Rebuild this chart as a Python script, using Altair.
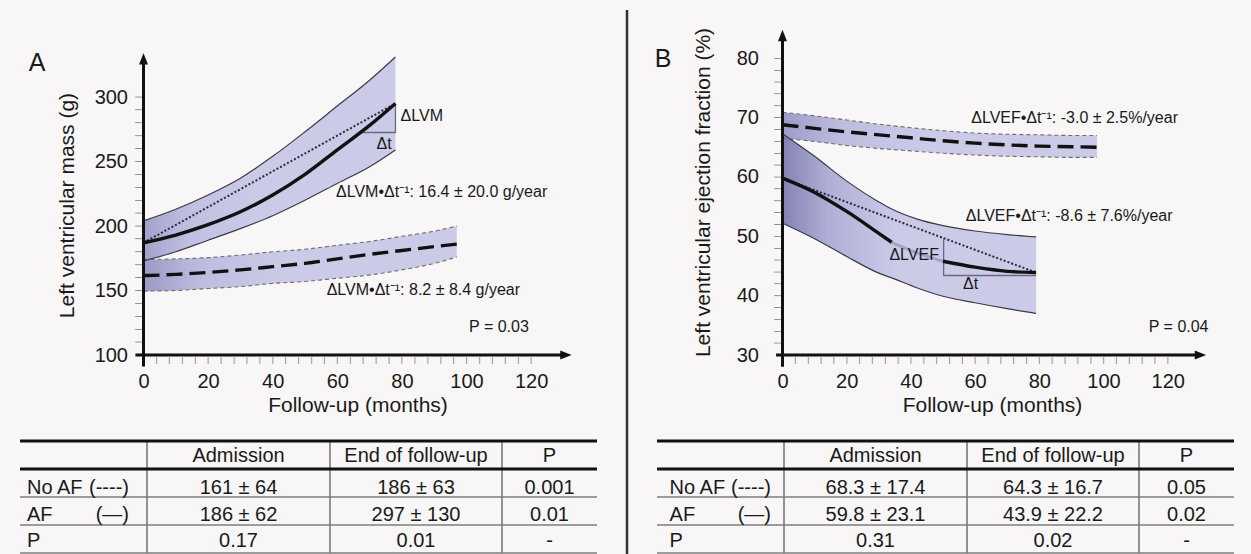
import altair as alt
import pandas as pd

FONT = "Liberation Sans"
INK = "#1a1a1a"
BG = "#f8f6f7"

# ---------------- Panel A: left ventricular mass (g) ----------------
A_AF_MONTH = [0, 10, 20, 30, 40, 50, 60, 70, 78]
A_AF_MEAN = [187, 193, 201, 211, 224, 240, 259, 278, 295]
A_AF_UPPER = [204, 213, 224, 237, 254, 273, 293, 313, 331]
A_AF_LOWER = [173, 180, 189, 198, 208, 220, 233, 246, 259]
A_NOAF_MONTH = [0, 10, 20, 30, 40, 50, 60, 70, 80, 90, 97]
A_NOAF_MEAN = [161.5, 162.5, 164, 166, 168.5, 171, 174.5, 178, 181, 184, 186]
A_NOAF_UPPER = [174, 174.5, 175.5, 177.5, 180, 182, 185, 188, 192, 196, 200]
A_NOAF_LOWER = [149.5, 150, 151.5, 153, 155.5, 157, 159.5, 162, 166, 171, 176]
A_TREND_MONTH = [0, 78]
A_TREND_VALUE = [187, 295]
A_DELTA_MONTH = [67, 78, 78]
A_DELTA_VALUE = [272.5, 272.5, 295]
A_NOTE_TEXT = ["ΔLVM•Δt⁻¹: 16.4 ± 20.0 g/year", "ΔLVM•Δt⁻¹: 8.2 ± 8.4 g/year", "P = 0.03", "ΔLVM"]
A_NOTE_MONTH = [59.6, 56.7, 100.8, 79.6]
A_NOTE_VALUE = [226.6, 150.4, 121.9, 285.3]
A_DT_TEXT = ["Δt"]
A_DT_MONTH = [74.5]
A_DT_VALUE = [263.6]
A_XLABELS = [0, 20, 40, 60, 80, 100, 120]
A_YLABELS = [100, 150, 200, 250, 300]
A_XMINOR = list(range(4, 121, 4))
A_YMINOR = list(range(110, 301, 10))

# ---------------- Panel B: left ventricular ejection fraction (%) ----------------
B_AF_MONTH = [0, 10, 20, 30, 34, 42, 50, 60, 70, 79]
B_AF_MEAN = [59.8, 57.4, 54.2, 50.5, 49.0, 47.2, 45.8, 44.8, 44.1, 43.9]
B_AF_UPPER = [67.3, 63.5, 59.3, 55.8, 54.6, 52.9, 51.8, 50.9, 50.3, 49.9]
B_AF_LOWER = [52.2, 49.6, 46.6, 43.8, 43.0, 41.3, 39.9, 38.8, 37.8, 37.0]
B_NOAF_MONTH = [0, 10, 20, 30, 40, 50, 60, 70, 80, 90, 98]
B_NOAF_MEAN = [68.8, 68.2, 67.6, 67.1, 66.6, 66.1, 65.7, 65.4, 65.2, 65.1, 65.0]
B_NOAF_UPPER = [70.9, 70.3, 69.6, 68.9, 68.3, 67.8, 67.4, 67.2, 67.1, 67.0, 67.0]
B_NOAF_LOWER = [66.5, 66.0, 65.3, 64.8, 64.4, 64.0, 63.7, 63.5, 63.4, 63.3, 63.3]
B_TREND_MONTH = [0, 79]
B_TREND_VALUE = [59.8, 43.9]
B_DELTA_MONTH = [50.2, 50.2, 79]
B_DELTA_VALUE = [49.7, 43.4, 43.4]
B_FADE_FROM, B_FADE_TO = 34, 50
B_NOTE_TEXT = ["ΔLVEF•Δt⁻¹: -3.0 ± 2.5%/year", "ΔLVEF•Δt⁻¹: -8.6 ± 7.6%/year", "P = 0.04", "ΔLVEF"]
B_NOTE_MONTH = [58.8, 57.1, 114.1, 33.3]
B_NOTE_VALUE = [69.9, 53.4, 34.8, 46.9]
B_DT_TEXT = ["Δt"]
B_DT_MONTH = [58.6]
B_DT_VALUE = [42.0]
B_XLABELS = [0, 20, 40, 60, 80, 100, 120]
B_YLABELS = [30, 40, 50, 60, 70, 80]
B_XMINOR = list(range(4, 121, 4))
B_YMINOR = list(range(32, 81, 2))

# ---------------- Tables ----------------
TAB_HEADER = ["", "Admission", "End of follow-up", "P"]
TAB_ROW_NAMES = ["No AF", "AF", "P"]
TAB_ROW_TAGS = ["(----)", "(—)", ""]
TAB_A_CELLS = [["161 ± 64", "186 ± 63", "0.001"],
               ["186 ± 62", "297 ± 130", "0.01"],
               ["0.17", "0.01", "-"]]
TAB_B_CELLS = [["68.3 ± 17.4", "64.3 ± 16.7", "0.05"],
               ["59.8 ± 23.1", "43.9 ± 22.2", "0.02"],
               ["0.31", "0.02", "-"]]
TAB_EDGES = [0, 127, 310, 482, 577]  # column boundaries (layout units)
TAB_TEXT_ROWS = [0.55, 1.68, 2.65, 3.57]  # vertical text anchors per row (layout units)

TICK_COLOR = "#666666"


def gradient(c0, c1, c2):
    return alt.Gradient(
        gradient="linear",
        stops=[alt.GradientStop(color=c0, offset=0),
               alt.GradientStop(color=c1, offset=0.18),
               alt.GradientStop(color=c2, offset=0.45),
               alt.GradientStop(color=c2, offset=1)],
        x1=0, x2=1, y1=0, y2=0)


def make_axes(x_off, y_off, yvals, ypad, ytitle, ytitle_x, ytitle_y, xtitle_x, xvals):
    axx = alt.Axis(orient="bottom", offset=y_off, values=xvals,
                   domain=False, ticks=False, tickSize=0,
                   labelFont=FONT, labelFontSize=20, labelColor=INK, labelPadding=16,
                   labelOverlap=False, labelFlush=False, grid=False,
                   title="Follow-up (months)", titleFont=FONT, titleFontSize=21,
                   titleFontWeight="normal", titleColor=INK, titleX=xtitle_x, titleY=50,
                   titleAlign="center", titleBaseline="middle", titleAngle=0)
    axy = alt.Axis(orient="left", offset=x_off, values=yvals,
                   domain=False, ticks=False, tickSize=0,
                   labelFont=FONT, labelFontSize=20, labelColor=INK, labelPadding=ypad,
                   labelOverlap=False, labelFlush=False, grid=False,
                   title=ytitle, titleFont=FONT, titleFontSize=21, titleFontWeight="normal",
                   titleColor=INK, titleX=ytitle_x, titleY=ytitle_y, titleAngle=270,
                   titleAlign="center", titleBaseline="middle")
    return axx, axy


def panel(sx, sy, axx, axy, af, noaf, trend, delta, notes, dt, axis_ends, minor,
          grad_af, grad_noaf, fade=None):
    def X(f="m"):
        return alt.X(f"{f}:Q", scale=sx, axis=axx)

    def Y(f="v"):
        return alt.Y(f"{f}:Q", scale=sy, axis=axy)

    am, amean, aup, alo = af
    nm, nmean, nup, nlo = noaf
    band_af = pd.DataFrame({"m": am, "lo": alo, "hi": aup})
    band_no = pd.DataFrame({"m": nm, "lo": nlo, "hi": nup})
    edges_af = pd.DataFrame({"m": am + am, "v": aup + alo,
                             "edge": ["u"] * len(am) + ["l"] * len(am)})
    edges_no = pd.DataFrame({"m": nm + nm, "v": nup + nlo,
                             "edge": ["u"] * len(nm) + ["l"] * len(nm)})
    mean_no = pd.DataFrame({"m": nm, "v": nmean})
    mean_af = pd.DataFrame({"m": am, "v": amean})
    if fade is None:
        mean_af["seg"] = "a"
    else:
        mean_af["seg"] = ["a" if m <= fade[0] else ("c" if m >= fade[1] else "b") for m in am]
        extra = mean_af[(mean_af.m == fade[0]) | (mean_af.m == fade[1])].copy()
        extra["seg"] = "b"
        mean_af = pd.concat([mean_af, extra], ignore_index=True)
    trend_df = pd.DataFrame({"m": trend[0], "v": trend[1]})
    delta_df = pd.DataFrame({"m": delta[0], "v": delta[1], "i": list(range(len(delta[0])))})
    notes_df = pd.DataFrame({"m": notes[1], "v": notes[2], "t": notes[0]})
    dt_df = pd.DataFrame({"m": dt[1], "v": dt[2], "t": dt[0]})
    (xa_m0, xa_m1, xa_v, ya_m, ya_v0, ya_v1) = axis_ends
    xaxis_df = pd.DataFrame({"m": [xa_m0], "m2": [xa_m1], "v": [xa_v]})
    yaxis_df = pd.DataFrame({"m": [ya_m], "v": [ya_v0], "v2": [ya_v1]})
    xarrow_df = pd.DataFrame({"m": [xa_m1], "v": [xa_v]})
    yarrow_df = pd.DataFrame({"m": [ya_m], "v": [ya_v1]})
    xminor, yminor = minor
    ticks_df = pd.DataFrame({
        "m": [float(t) for t in xminor] + [float(ya_m)] * len(yminor),
        "v": [float(xa_v)] * len(xminor) + [float(t) for t in yminor],
        "k": ["x"] * len(xminor) + ["y"] * len(yminor),
    })

    layers = [
        alt.Chart(band_no).mark_area(color=grad_noaf, interpolate="monotone").encode(
            x=X(), y=Y("lo"), y2="hi"),
        alt.Chart(band_af).mark_area(color=grad_af, interpolate="monotone").encode(
            x=X(), y=Y("lo"), y2="hi"),
        alt.Chart(edges_no).mark_line(color="#6e6e6e", strokeWidth=1.1, strokeDash=[4, 3],
                                      interpolate="monotone").encode(
            x=X(), y=Y(), detail="edge:N"),
        alt.Chart(edges_af).mark_line(color="#3a3a48", strokeWidth=1.2,
                                      interpolate="monotone").encode(
            x=X(), y=Y(), detail="edge:N"),
        alt.Chart(trend_df).mark_line(color="#2a2a3a", strokeWidth=2, strokeDash=[2, 2]).encode(
            x=X(), y=Y()),
        alt.Chart(delta_df).mark_line(color="#6a6a7a", strokeWidth=1.3).encode(
            x=X(), y=Y(), order="i:Q"),
    ]
    if fade is None:
        layers.append(alt.Chart(mean_af).mark_line(color="#111111", strokeWidth=3.4,
                                                   interpolate="monotone").encode(x=X(), y=Y()))
    else:
        layers.append(alt.Chart(mean_af).transform_filter("datum.seg == 'b'").mark_line(
            color="#a4a2c8", strokeWidth=3, interpolate="monotone").encode(x=X(), y=Y()))
        layers.append(alt.Chart(mean_af).transform_filter("datum.seg != 'b'").mark_line(
            color="#111111", strokeWidth=3.4, interpolate="monotone").encode(
            x=X(), y=Y(), detail="seg:N"))
    layers += [
        alt.Chart(mean_no).mark_line(color="#111111", strokeWidth=3.4, strokeDash=[16, 7],
                                     interpolate="monotone").encode(x=X(), y=Y()),
        # y minor ticks: a bar glyph turned sideways, just left of the axis
        alt.Chart(ticks_df).transform_filter("datum.k == 'y'").mark_text(
            text="|", font=FONT, fontSize=8, color=TICK_COLOR, align="center",
            baseline="middle", angle=90, xOffset=-5).encode(x=X(), y=Y()),
        # x minor ticks: a bar glyph just below the axis
        alt.Chart(ticks_df).transform_filter("datum.k == 'x'").mark_text(
            text="|", font=FONT, fontSize=8, color=TICK_COLOR, align="center",
            baseline="top", dy=1).encode(x=X(), y=Y()),
        alt.Chart(xaxis_df).mark_rule(color="#111111", strokeWidth=3).encode(
            x=X(), x2="m2", y=Y()),
        alt.Chart(yaxis_df).mark_rule(color="#111111", strokeWidth=3).encode(
            x=X(), y=Y(), y2="v2"),
        alt.Chart(xarrow_df).mark_point(shape="M1,0L-0.9,0.75L-0.9,-0.75Z", size=144,
                                        filled=True, color="#111111", opacity=1).encode(
            x=X(), y=Y()),
        alt.Chart(yarrow_df).mark_point(shape="M0,-1L0.75,0.9L-0.75,0.9Z", size=144,
                                        filled=True, color="#111111", opacity=1).encode(
            x=X(), y=Y()),
        alt.Chart(notes_df).mark_text(font=FONT, fontSize=16, color=INK, align="left",
                                      baseline="middle").encode(x=X(), y=Y(), text="t:N"),
        alt.Chart(dt_df).mark_text(font=FONT, fontSize=16, color=INK, align="center",
                                   baseline="middle").encode(x=X(), y=Y(), text="t:N"),
    ]
    return alt.layer(*layers)


# --- Panel A ---
sxA = alt.Scale(domain=[0, 120], range=[143.5, 531.1], nice=False, zero=False)
syA = alt.Scale(domain=[100, 300], range=[355, 97], nice=False, zero=False)
axxA, axyA = make_axes(-143.5, -199, A_YLABELS, 16, "Left ventricular mass (g)",
                       -76, 205, 357.5, A_XLABELS)
panelA = panel(sxA, syA, axxA, axyA,
               (A_AF_MONTH, A_AF_MEAN, A_AF_UPPER, A_AF_LOWER),
               (A_NOAF_MONTH, A_NOAF_MEAN, A_NOAF_UPPER, A_NOAF_LOWER),
               (A_TREND_MONTH, A_TREND_VALUE), (A_DELTA_MONTH, A_DELTA_VALUE),
               (A_NOTE_TEXT, A_NOTE_MONTH, A_NOTE_VALUE), (A_DT_TEXT, A_DT_MONTH, A_DT_VALUE),
               (-2.5, 130.7, 100, 0, 91, 329.3),
               (A_XMINOR, A_YMINOR),
               gradient("#a3a1cc", "#c0bfe0", "#cbcbe8"),
               gradient("#9c9ac7", "#bdbcdf", "#cbcbe8"))

# --- Panel B ---
sxB = alt.Scale(domain=[0, 120], range=[782.5, 1167.7], nice=False, zero=False)
syB = alt.Scale(domain=[30, 80], range=[355, 58.3], nice=False, zero=False)
axxB, axyB = make_axes(-782.5, -199, B_YLABELS, 24, "Left ventricular ejection fraction (%)",
                       -79.5, 192, 992, B_XLABELS)
panelB = panel(sxB, syB, axxB, axyB,
               (B_AF_MONTH, B_AF_MEAN, B_AF_UPPER, B_AF_LOWER),
               (B_NOAF_MONTH, B_NOAF_MEAN, B_NOAF_UPPER, B_NOAF_LOWER),
               (B_TREND_MONTH, B_TREND_VALUE), (B_DELTA_MONTH, B_DELTA_VALUE),
               (B_NOTE_TEXT, B_NOTE_MONTH, B_NOTE_VALUE), (B_DT_TEXT, B_DT_MONTH, B_DT_VALUE),
               (-2, 130.1, 30, 0, 28, 83.8),
               (B_XMINOR, B_YMINOR),
               gradient("#8482b4", "#afaed6", "#cbcbe8"),
               gradient("#9d9bc8", "#bdbcdf", "#cbcbe8"),
               fade=(B_FADE_FROM, B_FADE_TO))


# --- Tables ---
def table(xrange, name_x, tag_x, cells):
    sx = alt.Scale(domain=[0, 577], range=xrange, nice=False, zero=False)
    sy = alt.Scale(domain=[0, 4], range=[441, 553], nice=False, zero=False)

    def X(f="x"):
        return alt.X(f"{f}:Q", scale=sx, axis=None)

    def Y(f="y"):
        return alt.Y(f"{f}:Q", scale=sy, axis=None)

    centers = [(TAB_EDGES[i] + TAB_EDGES[i + 1]) / 2 for i in range(len(TAB_EDGES) - 1)]
    rows = []
    for c in range(1, 4):
        rows.append({"x": centers[c], "y": TAB_TEXT_ROWS[0], "t": TAB_HEADER[c]})
        for r in range(3):
            rows.append({"x": centers[c], "y": TAB_TEXT_ROWS[r + 1], "t": cells[r][c - 1]})
    cell_df = pd.DataFrame(rows)
    name_df = pd.DataFrame({"x": [name_x] * 3, "y": TAB_TEXT_ROWS[1:], "t": TAB_ROW_NAMES})
    tag_df = pd.DataFrame({"x": [tag_x] * 3, "y": TAB_TEXT_ROWS[1:], "t": TAB_ROW_TAGS})
    thick = pd.DataFrame({"x": [0, 0], "x2": [577, 577], "y": [0, 1]})
    thin = pd.DataFrame({"x": [0, 0, 0], "x2": [577, 577, 577], "y": [2, 3, 4]})
    vlines = pd.DataFrame({"x": TAB_EDGES[1:-1], "y": [0] * 3, "y2": [4] * 3})
    return alt.layer(
        alt.Chart(thin).mark_rule(color="#9c9c9c", strokeWidth=1.8).encode(
            x=X(), x2="x2", y=Y()),
        alt.Chart(vlines).mark_rule(color="#7a7a7a", strokeWidth=1.6).encode(
            x=X(), y=Y(), y2="y2"),
        alt.Chart(thick).mark_rule(color="#111111", strokeWidth=3).encode(
            x=X(), x2="x2", y=Y()),
        alt.Chart(cell_df).mark_text(font=FONT, fontSize=20, color=INK, align="center",
                                     baseline="middle").encode(x=X(), y=Y(), text="t:N"),
        alt.Chart(name_df).mark_text(font=FONT, fontSize=20, color=INK, align="left",
                                     baseline="middle").encode(x=X(), y=Y(), text="t:N"),
        alt.Chart(tag_df).mark_text(font=FONT, fontSize=20, color=INK, align="right",
                                    baseline="middle").encode(x=X(), y=Y(), text="t:N"),
    )


tableA = table([20, 597], 7, 109, TAB_A_CELLS)
tableB = table([657, 1234], 12.6, 114, TAB_B_CELLS)

# --- Decorations: panel letters and divider ---
deco = alt.layer(
    alt.Chart(pd.DataFrame({"t": ["A"]})).mark_text(font=FONT, fontSize=25, color=INK,
                                                     align="center", baseline="middle").encode(
        x=alt.value(37), y=alt.value(63), text="t:N"),
    alt.Chart(pd.DataFrame({"t": ["B"]})).mark_text(font=FONT, fontSize=25, color=INK,
                                                     align="center", baseline="middle").encode(
        x=alt.value(663), y=alt.value(59), text="t:N"),
    alt.Chart(pd.DataFrame({"t": ["|"]})).mark_rule(color="#333333", strokeWidth=2.5).encode(
        x=alt.value(627), y=alt.value(10), y2=alt.value(554)),
)

chart = alt.layer(panelA, panelB, tableA, tableB, deco).resolve_scale(
    x="independent", y="independent"
).properties(
    width=1251, height=554, padding=0,
    autosize=alt.AutoSizeParams(type="none"),
    background=BG,
).configure_view(stroke=None)

chart.save("out.html", embed_options={"renderer": "svg", "actions": False})
